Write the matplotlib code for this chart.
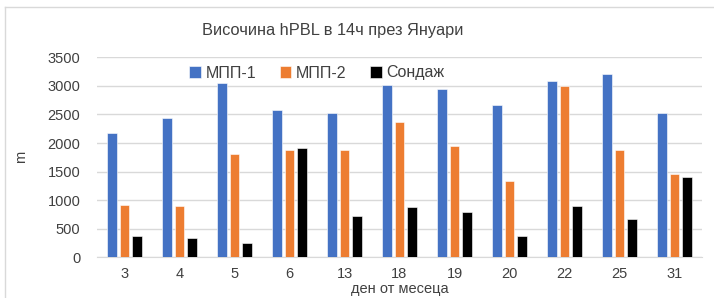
import matplotlib
matplotlib.use("Agg")
import matplotlib.pyplot as plt
import numpy as np
from matplotlib.lines import Line2D

days = ["3", "4", "5", "6", "13", "18", "19", "20", "22", "25", "31"]
mpp1 = [2170, 2430, 3050, 2570, 2520, 3010, 2950, 2670, 3080, 3200, 2530]
mpp2 = [920, 890, 1800, 1870, 1870, 2370, 1940, 1330, 3000, 1880, 1450]
sondazh = [370, 340, 250, 1910, 720, 880, 800, 370, 900, 670, 1410]
series_names = ["МПП-1", "МПП-2", "Сондаж"]
colors = ["#4472C4", "#ED7D31", "#000000"]

plt.rcParams['font.family'] = ['Liberation Sans', 'DejaVu Sans']

fig = plt.figure(figsize=(7.14, 2.98), dpi=100)
W, H = 714, 298
ax = fig.add_axes([97 / W, 1 - 257.3 / H, (702 - 97) / W, 200 / H])

x = np.arange(len(days))
bw = 0.17
off = 0.225
for i, (vals, c, name) in enumerate(zip([mpp1, mpp2, sondazh], colors, series_names)):
    ax.bar(x + (i - 1) * off, vals, width=bw, color=c, label=name,
           edgecolor="white", linewidth=0.4, zorder=3)

ax.set_xlim(-0.5, len(days) - 0.5)
ax.set_ylim(0, 3500)
ax.set_yticks(np.arange(0, 3501, 500))
ax.set_xticks(x)
ax.set_xticklabels(days)
ax.yaxis.grid(True, color="#D9D9D9", linewidth=1, zorder=0)
for s in ["top", "right", "left"]:
    ax.spines[s].set_visible(False)
ax.spines["bottom"].set_color("#D9D9D9")
ax.tick_params(axis="both", length=0, labelsize=10.5, colors="#404040")
ax.tick_params(axis="x", pad=7)
ax.tick_params(axis="y", pad=12)
ax.set_ylabel("m", fontsize=10.5, color="#404040", labelpad=14)
ax.set_xlabel("ден от месеца", fontsize=10.5, color="#404040", labelpad=1)

fig.text(333 / W, 1 - 30 / H, "Височина hPBL в 14ч през Януари", ha="center", va="center",
         fontsize=11.8, color="#404040")

leg = ax.legend(loc="center", bbox_to_anchor=(317 / W, 1 - 73 / H), bbox_transform=fig.transFigure,
                ncol=3, frameon=False, fontsize=11.5, handlelength=0.7, handleheight=0.7,
                handletextpad=0.3, columnspacing=1.5)
for t in leg.get_texts():
    t.set_color("#404040")

# chart-area border (top and left edges visible in the reference)
fig.lines.append(Line2D([5 / W, 5 / W], [0, 1 - 7 / H], transform=fig.transFigure,
                        color="#D9D9D9", linewidth=1))
fig.lines.append(Line2D([5 / W, 1], [1 - 7 / H, 1 - 7 / H], transform=fig.transFigure,
                        color="#D9D9D9", linewidth=1))

fig.savefig("out.png", dpi=100)
